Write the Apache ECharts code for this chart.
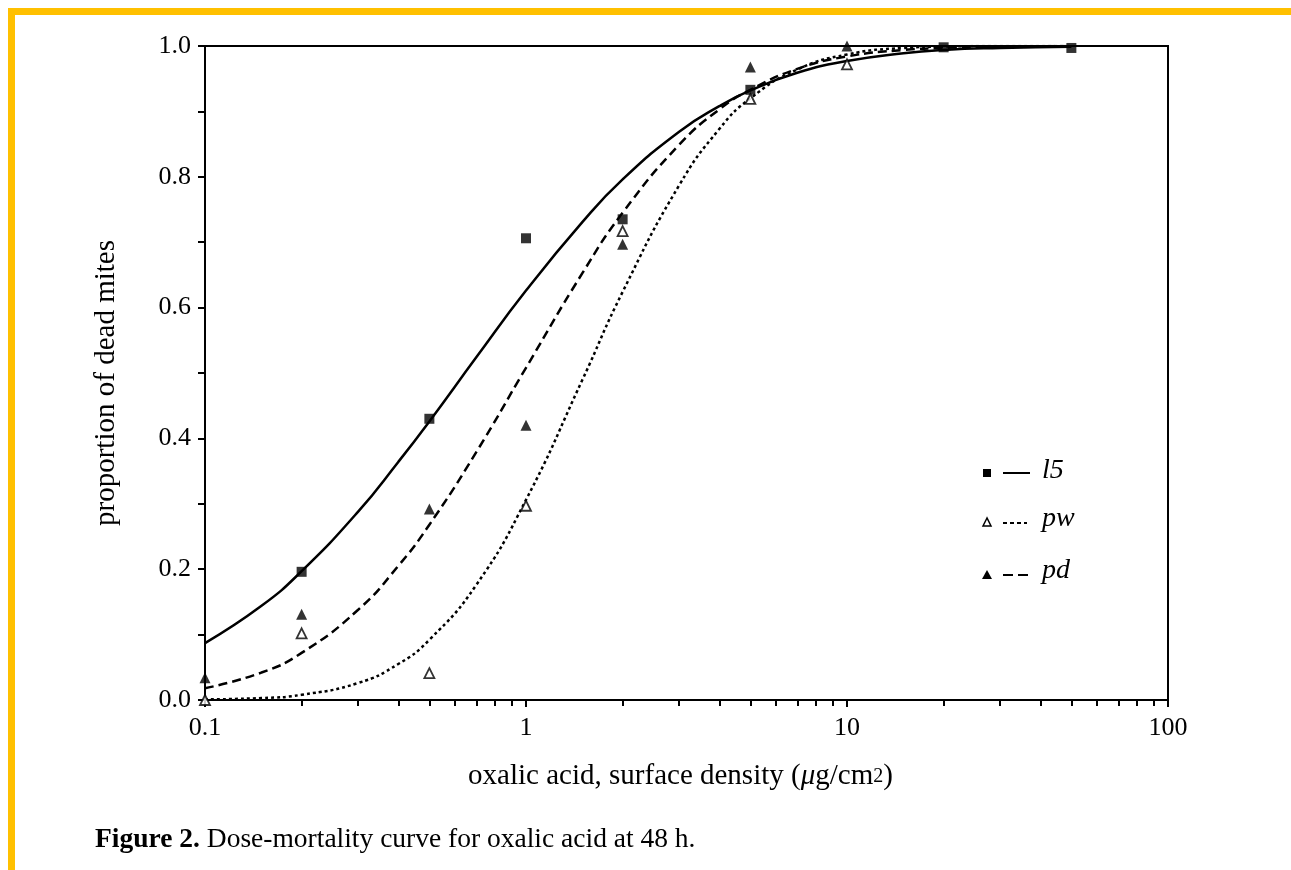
<!DOCTYPE html>
<html>
<head>
<meta charset="utf-8">
<title>Dose-mortality curve</title>
<script src="https://cdn.jsdelivr.net/npm/echarts@6/dist/echarts.min.js"></script>
<style>
  html, body { margin: 0; padding: 0; background: #fff; }
  #chart { position: absolute; left: 0; top: 0; width: 1291px; height: 870px; }
  #frame {
    position: absolute; left: 8px; top: 8px; right: 0; bottom: 0;
    border-top: 7px solid #ffc000; border-left: 7px solid #ffc000;
    pointer-events: none;
  }
</style>
</head>
<body>
<div id="chart"></div>
<div id="frame"></div>
<script>
  // observed proportions of dead mites per dose (ug/cm2)
  var l5Points = [[0.2, 0.196], [0.5, 0.43], [1, 0.706], [2, 0.735], [5, 0.933], [20, 0.998], [50, 0.997]]
  var pwPoints = [[0.1, 0.0], [0.2, 0.102], [0.5, 0.041], [1, 0.297], [2, 0.717], [5, 0.919], [10, 0.972]]
  var pdPoints = [[0.1, 0.034], [0.2, 0.131], [0.5, 0.292], [1, 0.42], [2, 0.697], [5, 0.968], [10, 1.0]]

  // fitted curves
  var curveDose = [0.1, 0.15, 0.2, 0.3, 0.4, 0.5, 0.7, 1, 1.5, 2, 3, 4, 5, 7, 10, 15, 20, 30, 50]
  var l5Curve = [0.087, 0.144, 0.197, 0.288, 0.364, 0.426, 0.524, 0.626, 0.731, 0.796, 0.869, 0.908, 0.932, 0.959, 0.977, 0.989, 0.994, 0.997, 0.999]
  var pwCurve = [0.001, 0.003, 0.008, 0.026, 0.055, 0.092, 0.176, 0.306, 0.49, 0.624, 0.787, 0.873, 0.92, 0.964, 0.987, 0.997, 0.999, 1.0, 1.0]
  var pdCurve = [0.018, 0.042, 0.072, 0.138, 0.205, 0.268, 0.379, 0.508, 0.653, 0.745, 0.849, 0.903, 0.933, 0.965, 0.984, 0.994, 0.997, 0.999, 1.0]

  var xTickLabels = [0.1, 1, 10, 100]
  var yTickLabels = ['0.0', '0.2', '0.4', '0.6', '0.8', '1.0']

  function pairs(xs, ys) {
    return xs.map(function (x, i) { return [x, ys[i]] })
  }

  var serif = 'Liberation Serif'
  var chart = echarts.init(document.getElementById('chart'))

  chart.setOption({
    animation: false,
    backgroundColor: '#fff',
    textStyle: { fontFamily: serif, color: '#000' },
    grid: {
      left: 205, right: 123, top: 46, bottom: 170,
      show: true, borderColor: '#000', borderWidth: 2
    },
    xAxis: {
      type: 'log',
      logBase: 10,
      min: 0.1,
      max: 100,
      name: 'oxalic acid, surface density ({i|μ}g/cm{s|2})',
      nameLocation: 'middle',
      nameGap: 62,
      nameTextStyle: {
        fontFamily: serif, fontSize: 29, color: '#000',
        padding: [0, 12, 0, 0],
        rich: {
          i: { fontFamily: serif, fontSize: 29, fontStyle: 'italic', color: '#000' },
          s: { fontFamily: serif, fontSize: 20, color: '#000' }
        }
      },
      axisLine: { lineStyle: { color: '#000', width: 2 } },
      axisTick: { show: true, inside: false, length: 7, lineStyle: { color: '#000', width: 2 } },
      minorTick: { show: true, splitNumber: 9, length: 6, lineStyle: { color: '#000', width: 2 } },
      splitLine: { show: false },
      axisLabel: {
        fontFamily: serif, fontSize: 26, color: '#000', margin: 15,
        formatter: function (v) {
          return xTickLabels.indexOf(v) >= 0 ? String(v) : ''
        }
      }
    },
    yAxis: {
      type: 'value',
      min: 0,
      max: 1,
      interval: 0.1,
      name: 'proportion of dead mites',
      nameLocation: 'middle',
      nameGap: 84,
      nameTextStyle: { fontFamily: serif, fontSize: 29, color: '#000', padding: [0, 20, 0, 0] },
      axisLine: { show: true, lineStyle: { color: '#000', width: 2 } },
      axisTick: { show: true, inside: false, length: 7, lineStyle: { color: '#000', width: 2 } },
      splitLine: { show: false },
      axisLabel: {
        fontFamily: serif, fontSize: 26, color: '#000', margin: 14,
        formatter: function (v) {
          var s = v.toFixed(1)
          return yTickLabels.indexOf(s) >= 0 ? s : ''
        }
      }
    },
    series: [
      {
        name: 'l5 fit', type: 'line', data: pairs(curveDose, l5Curve),
        smooth: true, showSymbol: false, z: 2,
        lineStyle: { color: '#000', width: 2.5, type: 'solid' }
      },
      {
        name: 'pw fit', type: 'line', data: pairs(curveDose, pwCurve),
        smooth: true, showSymbol: false, z: 2,
        lineStyle: { color: '#000', width: 2.5, type: [3, 3] }
      },
      {
        name: 'pd fit', type: 'line', data: pairs(curveDose, pdCurve),
        smooth: true, showSymbol: false, z: 2,
        lineStyle: { color: '#000', width: 2.5, type: [9, 5] }
      },
      {
        name: 'l5', type: 'scatter', data: l5Points, clip: false, z: 5,
        symbol: 'rect', symbolSize: 10,
        itemStyle: { color: '#000' }
      },
      {
        name: 'pw', type: 'scatter', data: pwPoints, clip: false, z: 5,
        symbol: 'triangle', symbolSize: 10,
        itemStyle: { color: '#fff', borderColor: '#000', borderWidth: 1.8 }
      },
      {
        name: 'pd', type: 'scatter', data: pdPoints, clip: false, z: 5,
        symbol: 'triangle', symbolSize: 11,
        itemStyle: { color: '#000' }
      }
    ],
    graphic: [
      // legend, drawn by hand: marker, line sample, italic label
      { type: 'rect', shape: { x: 983, y: 469, width: 8, height: 8 }, style: { fill: '#000' } },
      { type: 'line', shape: { x1: 1003, y1: 473, x2: 1030, y2: 473 }, style: { stroke: '#000', lineWidth: 2 } },
      { type: 'text', left: 1042, top: 457, style: { text: 'l5', font: 'italic 28px "Liberation Serif"', fill: '#000' } },

      { type: 'polygon', shape: { points: [[987, 518], [983, 526], [991, 526]] }, style: { fill: '#fff', stroke: '#000', lineWidth: 1.5 } },
      { type: 'line', shape: { x1: 1003, y1: 523, x2: 1027, y2: 523 }, style: { stroke: '#000', lineWidth: 2, lineDash: [4, 3] } },
      { type: 'text', left: 1042, top: 505, style: { text: 'pw', font: 'italic 28px "Liberation Serif"', fill: '#000' } },

      { type: 'polygon', shape: { points: [[987, 570], [982, 579], [992, 579]] }, style: { fill: '#000' } },
      { type: 'line', shape: { x1: 1003, y1: 575, x2: 1030, y2: 575 }, style: { stroke: '#000', lineWidth: 2, lineDash: [10, 5] } },
      { type: 'text', left: 1042, top: 557, style: { text: 'pd', font: 'italic 28px "Liberation Serif"', fill: '#000' } },

      {
        type: 'text', left: 95, top: 826,
        style: {
          text: '{b|Figure 2.} Dose-mortality curve for oxalic acid at 48 h.',
          font: '27.5px "Liberation Serif"', fill: '#000',
          rich: { b: { fontFamily: serif, fontSize: 27.5, fontWeight: 'bold', fill: '#000' } }
        }
      }
    ]
  })
</script>
</body>
</html>
